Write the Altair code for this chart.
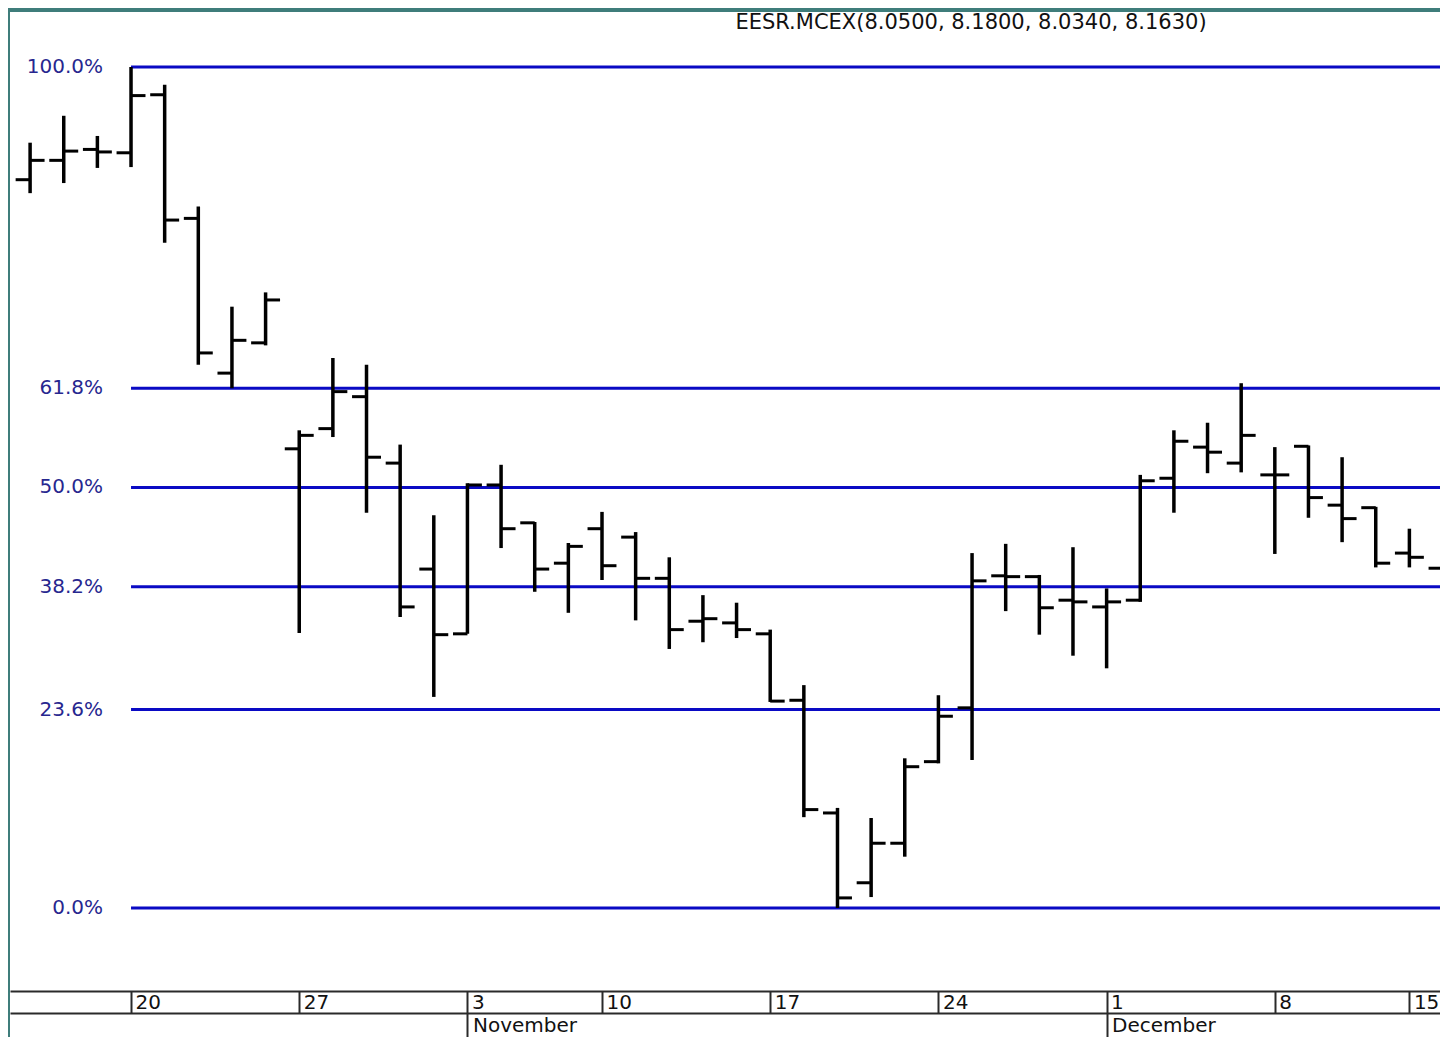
import altair as alt
import pandas as pd

# ---------------- data ----------------
dates = [
    "2008-10-15", "2008-10-16", "2008-10-17",
    "2008-10-20", "2008-10-21", "2008-10-22", "2008-10-23", "2008-10-24",
    "2008-10-27", "2008-10-28", "2008-10-29", "2008-10-30", "2008-10-31",
    "2008-11-03", "2008-11-05", "2008-11-06", "2008-11-07",
    "2008-11-10", "2008-11-11", "2008-11-12", "2008-11-13", "2008-11-14",
    "2008-11-17", "2008-11-18", "2008-11-19", "2008-11-20", "2008-11-21",
    "2008-11-24", "2008-11-25", "2008-11-26", "2008-11-27", "2008-11-28",
    "2008-12-01", "2008-12-02", "2008-12-03", "2008-12-04", "2008-12-05",
    "2008-12-08", "2008-12-09", "2008-12-10", "2008-12-11",
    "2008-12-15", "2008-12-16",
]
# prices expressed as % of the Oct-20 high / Nov-19 low range
opens = [86.6, 88.9, 90.2, 89.8, 96.7, 82.0, 63.6, 67.2, 54.6, 57.0, 60.8, 52.9, 40.3,
         32.6, 50.3, 45.8, 41.0, 45.1, 44.1, 39.2, 34.1, 33.9, 32.6, 24.7, 11.3, 3.0,
         7.7, 17.4, 23.8, 39.5, 39.4, 36.6, 35.8, 36.6, 51.1, 54.8, 52.9, 51.5, 54.9,
         47.9, 47.6, 42.2, 40.4]
highs = [91.0, 94.2, 91.8, 100.0, 97.9, 83.4, 71.5, 73.2, 56.8, 65.4, 64.6, 55.1, 46.7,
         50.5, 52.7, 45.9, 43.4, 47.1, 44.7, 41.7, 37.2, 36.3, 33.1, 26.5, 11.9, 10.7,
         17.8, 25.3, 42.2, 43.3, 39.6, 42.9, 38.0, 51.5, 56.8, 57.7, 62.4, 54.8, 55.0,
         53.6, 47.7, 45.1, 44.1]
lows = [85.0, 86.2, 88.0, 88.1, 79.1, 64.6, 61.8, 66.9, 32.7, 56.0, 47.0, 34.6, 25.1,
        32.6, 42.8, 37.6, 35.1, 39.0, 34.2, 30.8, 31.6, 32.1, 24.5, 10.8, 0.0, 1.3,
        6.1, 17.2, 17.6, 35.3, 32.5, 30.0, 28.5, 36.4, 47.0, 51.7, 51.8, 42.1, 46.4,
        43.5, 40.5, 40.5, 40.2]
closes = [88.9, 90.0, 89.9, 96.6, 81.8, 66.0, 67.5, 72.3, 56.2, 61.4, 53.6, 35.8, 32.5,
          50.3, 45.1, 40.3, 43.0, 40.7, 39.2, 33.1, 34.4, 33.1, 24.6, 11.7, 1.2, 7.7,
          16.8, 22.8, 38.9, 39.4, 35.7, 36.4, 36.4, 50.8, 55.5, 54.2, 56.2, 51.5, 48.8,
          46.3, 41.0, 41.7, 43.6]

week_starts = ["2008-10-20", "2008-10-27", "2008-11-03", "2008-11-10", "2008-11-17",
               "2008-11-24", "2008-12-01", "2008-12-08", "2008-12-15"]
week_labels = ["20", "27", "3", "10", "17", "24", "1", "8", "15"]
month_starts = ["2008-11-03", "2008-12-01"]
month_labels = ["November", "December"]

fib_levels = [100.0, 61.8, 50.0, 38.2, 23.6, 0.0]
fib_labels = ["100.0%", "61.8%", "50.0%", "38.2%", "23.6%", "0.0%"]
swing_high = "2008-10-20"

title_text = "EESR.MCEX(8.0500, 8.1800, 8.0340, 8.1630)"

# ---------------- tables ----------------
bars = pd.DataFrame({"date": dates, "open": opens, "high": highs,
                     "low": lows, "close": closes})
bars["i"] = range(len(bars))

start_i = dates.index(swing_high)
fib = pd.DataFrame({"level": fib_levels, "label": fib_labels})
fib["x0"] = start_i
fib["x1"] = len(dates)

week_i = [dates.index(d) for d in week_starts]
month_i = [dates.index(d) for d in month_starts]


def label_expr(vals, labels):
    expr = "''"
    for v, l in reversed(list(zip(vals, labels))):
        expr = f"datum.value == {v} ? '{l}' : ({expr})"
    return expr


FONT = "DejaVu Sans"
BLUE = "#0a0ac4"
LINE = "#2a2a2a"

xs = alt.Scale(domain=[-0.5975, 41.91], nice=False, zero=False)
ys = alt.Scale(domain=[-15.34, 106.54], nice=False, zero=False)

week_axis = alt.Axis(
    values=week_i, labelExpr=label_expr(week_i, week_labels), orient="bottom",
    offset=-46, domain=True, domainColor=LINE, domainWidth=2,
    ticks=True, tickColor=LINE, tickWidth=2, tickSize=22,
    labelAlign="left", labelBaseline="middle", labelPadding=-11, labelOffset=4,
    labelFont=FONT, labelFontSize=20, labelColor="#111111",
    labelOverlap=False, labelFlush=False, grid=False, title=None)

month_axis = alt.Axis(
    values=month_i, labelExpr=label_expr(month_i, month_labels), orient="bottom",
    offset=-24, domain=True, domainColor=LINE, domainWidth=2,
    ticks=True, tickColor=LINE, tickWidth=2, tickSize=24,
    labelAlign="left", labelBaseline="middle", labelPadding=-12, labelOffset=5,
    labelFont=FONT, labelFontSize=20, labelColor="#111111",
    labelOverlap=False, labelFlush=False, grid=False, title=None)

fib_base = alt.Chart(fib)
fib_lines = fib_base.mark_rule(color=BLUE, strokeWidth=3, clip=True).encode(
    x=alt.X("x0:Q", scale=xs, axis=month_axis),
    x2="x1:Q",
    y=alt.Y("level:Q", scale=ys, axis=None),
)
fib_text = fib_base.mark_text(
    align="right", baseline="middle", dx=-28, font=FONT, fontSize=20,
    color="#27278f", clip=True,
).encode(
    x=alt.X("x0:Q", scale=xs, axis=None),
    y=alt.Y("level:Q", scale=ys, axis=None),
    text="label:N",
)

base = alt.Chart(bars)
hl = base.mark_rule(color="black", strokeWidth=3.5, clip=True).encode(
    x=alt.X("i:Q", scale=xs, axis=week_axis),
    y=alt.Y("low:Q", scale=ys, axis=None),
    y2="high:Q",
)
open_tick = base.transform_calculate(xo="datum.i - 0.43").mark_rule(
    color="black", strokeWidth=3, clip=True
).encode(
    x=alt.X("xo:Q", scale=xs, axis=None),
    x2="i:Q",
    y=alt.Y("open:Q", scale=ys, axis=None),
)
close_tick = base.transform_calculate(xc="datum.i + 0.43").mark_rule(
    color="black", strokeWidth=3, clip=True
).encode(
    x=alt.X("i:Q", scale=xs, axis=None),
    x2="xc:Q",
    y=alt.Y("close:Q", scale=ys, axis=None),
)

chart = (
    alt.layer(fib_lines, fib_text, hl, open_tick, close_tick)
    .resolve_axis(x="independent")
    .properties(
        width=1430,
        height=1025,
        autosize=alt.AutoSizeParams(type="none"),
        padding={"left": 2, "top": 4, "right": 0, "bottom": 0},
        background="#3f7d7b",
        title=alt.TitleParams(
            text=title_text, anchor="middle", frame="group", dx=246, dy=25,
            offset=-7, baseline="middle", font=FONT, fontSize=21,
            fontWeight="normal", color="#111111",
        ),
    )
    .configure_view(fill="white", strokeWidth=0)
)

chart.save("out.html", embed_options={"renderer": "svg", "actions": False})
